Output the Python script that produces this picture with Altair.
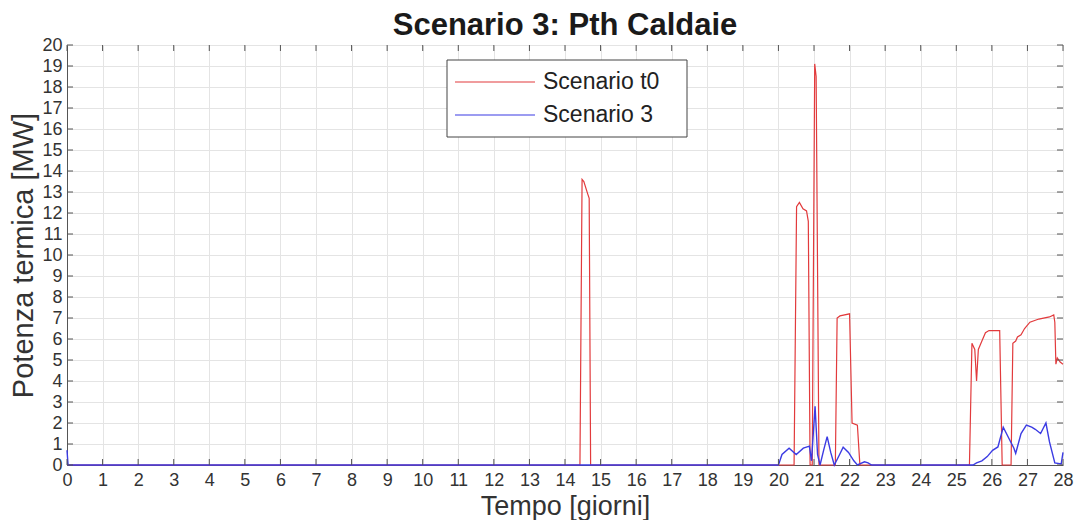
import altair as alt
import pandas as pd

# ---- data ----
series_names = ["Scenario t0", "Scenario 3"]

t0_days = [0, 14.42, 14.48, 14.53, 14.64, 14.68, 14.72,
           20.44, 20.51, 20.59, 20.69, 20.79, 20.84, 20.89,
           20.95, 21.02, 21.06, 21.14,
           21.6, 21.65, 21.73, 22.0, 22.07, 22.22, 22.29,
           25.37, 25.44, 25.52, 25.57, 25.62, 25.72, 25.82, 25.92, 26.22, 26.29,
           26.54, 26.59, 26.67, 26.72, 26.82, 26.92, 27.07, 27.32, 27.62, 27.74,
           27.77, 27.8, 27.84, 27.92, 28]
t0_vals = [0, 0, 13.6, 13.5, 12.9, 12.7, 0,
           0, 12.3, 12.5, 12.2, 12.1, 11.6, 0,
           0, 19.1, 18.5, 0,
           0, 7.0, 7.1, 7.2, 2.0, 1.9, 0,
           0, 5.8, 5.5, 4.0, 5.5, 5.9, 6.3, 6.4, 6.4, 0,
           0, 5.8, 5.9, 6.1, 6.2, 6.5, 6.8, 6.95, 7.05, 7.15,
           6.8, 4.8, 5.1, 4.9, 4.8]

s3_days = [0, 0.03, 20.0, 20.1, 20.3, 20.5, 20.7, 20.87, 20.93, 20.98, 21.03,
           21.1, 21.17, 21.27, 21.37, 21.47, 21.57, 21.72, 21.82, 21.97, 22.12,
           22.22, 22.42, 22.52, 22.62, 25.47, 25.57, 25.72, 25.87, 26.02, 26.17,
           26.32, 26.47, 26.62, 26.67, 26.82, 26.97, 27.12, 27.22, 27.37, 27.52,
           27.62, 27.77, 27.95, 28]
s3_vals = [0.7, 0, 0, 0.5, 0.8, 0.5, 0.8, 0.9, 0.2, 1.5, 2.8,
           0.5, 0, 0.7, 1.35, 0.6, 0, 0.5, 0.85, 0.6, 0.2,
           0, 0.15, 0.1, 0, 0, 0.1, 0.2, 0.4, 0.7, 0.86,
           1.8, 1.3, 0.8, 0.55, 1.5, 1.9, 1.8, 1.7, 1.5, 2.0,
           1.1, 0.1, 0.05, 0.6]

x_ticks = list(range(0, 29))
y_ticks = list(range(0, 21))

title_text = "Scenario 3: Pth Caldaie"
x_title = "Tempo [giorni]"
y_title = "Potenza termica [MW]"

# ---- styling ----
W, H = 996, 420
RED = "#e23a3c"
BLUE = "#3b3be3"
FONT = "Liberation Sans"
TXT = "#333333"

df = pd.concat([
    pd.DataFrame({"giorno": t0_days, "P": t0_vals, "serie": series_names[0]}),
    pd.DataFrame({"giorno": s3_days, "P": s3_vals, "serie": series_names[1]}),
])
df_x = pd.DataFrame({"d": x_ticks})
df_y = pd.DataFrame({"v": y_ticks})

xs = alt.Scale(domain=[0, 28], nice=False, zero=False)
ys = alt.Scale(domain=[0, 20], nice=False, zero=False)

x_axis = alt.Axis(values=x_ticks, format="d", title=x_title, grid=True,
                  gridColor="#e4e4e4", tickSize=0, labelPadding=6,
                  labelFontSize=18, labelColor=TXT, labelFont=FONT,
                  labelOverlap=False,
                  titleFont=FONT, titleFontSize=27, titleFontWeight="normal",
                  titleColor=TXT, titlePadding=4, domainColor="#555555",
                  labelFlush=False)
y_axis = alt.Axis(values=y_ticks, format="d", title=y_title, grid=True,
                  gridColor="#e4e4e4", tickSize=0, labelPadding=5,
                  labelFontSize=18, labelColor=TXT, labelFont=FONT,
                  labelOverlap=False,
                  titleFont=FONT, titleFontSize=29, titleFontWeight="normal",
                  titleColor=TXT, titlePadding=3, domainColor="#555555",
                  labelFlush=False)


def X(field):
    return alt.X(field, scale=xs, axis=x_axis)


def Y(field):
    return alt.Y(field, scale=ys, axis=y_axis)


red_line = alt.Chart(df[df.serie == series_names[0]]).mark_line(
    color=RED, strokeWidth=1.2, interpolate="linear").encode(
    x=X("giorno:Q"), y=Y("P:Q"), order="giorno:Q")
blue_line = alt.Chart(df[df.serie == series_names[1]]).mark_line(
    color=BLUE, strokeWidth=1.4).encode(
    x=X("giorno:Q"), y=Y("P:Q"), order="giorno:Q")

TICK = "#555555"
tb = alt.Chart(df_x).mark_rule(color=TICK).encode(
    x=X("d:Q"), y=alt.value(H), y2=alt.value(H - 6))
tt = alt.Chart(df_x).mark_rule(color=TICK).encode(
    x=X("d:Q"), y=alt.value(0), y2=alt.value(6))
tl = alt.Chart(df_y).mark_rule(color=TICK).encode(
    y=Y("v:Q"), x=alt.value(0), x2=alt.value(6))
tr = alt.Chart(df_y).mark_rule(color=TICK).encode(
    y=Y("v:Q"), x=alt.value(W), x2=alt.value(W - 6))

# title as a text mark placed above the plot
title_mark = alt.Chart(pd.DataFrame({"t": [title_text]})).mark_text(
    align="center", baseline="alphabetic", font=FONT, fontSize=31,
    fontWeight="bold", color="#1a1a1a").encode(
    x=alt.value(W / 2), y=alt.value(-10), text="t:N")

# legend box (manual, MATLAB-like)
leg_df = pd.DataFrame({"s": [series_names[0]]})
leg_box = alt.Chart(leg_df).mark_rect(fill="white", stroke="#444444",
                                      strokeWidth=1).encode(
    x=alt.value(380), x2=alt.value(620), y=alt.value(15), y2=alt.value(92))
leg_layers = [leg_box]
for i, (name, col) in enumerate(zip(series_names, [RED, BLUE])):
    d = pd.DataFrame({"s": [name]})
    yy = 37 + i * 33
    leg_layers.append(alt.Chart(d).mark_rule(color=col, strokeWidth=1.2).encode(
        x=alt.value(388), x2=alt.value(468), y=alt.value(yy)))
    leg_layers.append(alt.Chart(d).mark_text(
        align="left", baseline="middle", font=FONT, fontSize=23,
        color="#222222").encode(
        x=alt.value(476), y=alt.value(yy), text="s:N"))

chart = alt.layer(red_line, blue_line, tb, tt, tl, tr, title_mark,
                  *leg_layers).properties(
    width=W, height=H,
    autosize=alt.AutoSizeParams(type="none"),
    padding={"left": 59, "top": 37, "right": 12, "bottom": 55},
).configure_view(stroke="#444444", strokeWidth=1).configure(background="white")

chart.save("out.html", embed_options={"renderer": "svg", "actions": False})
